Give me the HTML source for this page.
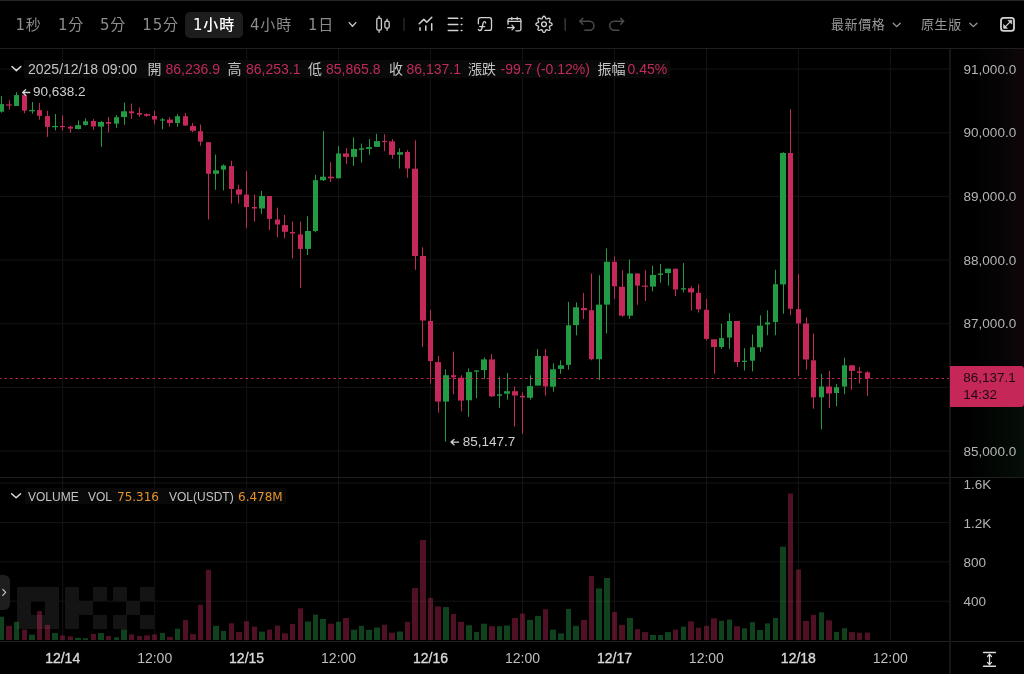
<!DOCTYPE html>
<html lang="zh-Hant">
<head>
<meta charset="utf-8">
<title>BTC-USDT 1小時</title>
<style>
*{margin:0;padding:0;box-sizing:border-box}
html,body{width:1024px;height:674px;overflow:hidden;background:#000}
body{position:relative;font-family:"Liberation Sans","Noto Sans CJK TC",sans-serif;color:#c8c8c8}
.a{position:absolute;white-space:nowrap;line-height:1}
.hl{position:absolute;left:0;width:1024px;height:1px}
.tab{position:absolute;top:17.9px;letter-spacing:.8px;font:15px/1 "DejaVu Sans","Noto Sans CJK TC",sans-serif;color:#8c8c8c;white-space:nowrap}
.tab.sel{color:#fff;font-weight:500}
.hr{position:absolute;top:18.3px;letter-spacing:.6px;font:13px/1 "Liberation Sans","Noto Sans CJK TC",sans-serif;color:#9a9a9a;white-space:nowrap}
.ib{position:absolute;top:62.2px;font:14px/1 "Liberation Sans","Noto Sans CJK TC",sans-serif;white-space:nowrap}
.lb{color:#c4c4c4}
.rv{color:#bf2a58}
.ax{position:absolute;left:963.6px;font:13.5px/1 "Liberation Sans",sans-serif;color:#b4b4b4;white-space:nowrap}
.tl{position:absolute;top:651.2px;width:60px;margin-left:-30px;text-align:center;font:14px/1 "Liberation Sans",sans-serif;color:#bdbdbd}
.tl.d{color:#d8d8d8;-webkit-text-stroke:.35px #d8d8d8}
.vl{position:absolute;top:490.7px;font:12px/1 "Liberation Sans",sans-serif;white-space:nowrap}
</style>
</head>
<body>
<!-- header -->
<div class="hl" style="top:0;background:#252525"></div>
<div class="hl" style="top:48px;background:#1f1f1f"></div>
<div class="a" style="left:185px;top:12px;width:58px;height:26px;border-radius:5px;background:#1d1d1d"></div>
<span class="tab" style="left:15.5px">1秒</span>
<span class="tab" style="left:58px">1分</span>
<span class="tab" style="left:100px">5分</span>
<span class="tab" style="left:142.3px">15分</span>
<span class="tab sel" style="left:193px">1小時</span>
<span class="tab" style="left:250px">4小時</span>
<span class="tab" style="left:308px">1日</span>
<svg class="a" style="left:0;top:0" width="1024" height="48" viewBox="0 0 1024 48" fill="none" stroke-linecap="round" stroke-linejoin="round">
  <!-- dropdown chevron -->
  <path d="M349.2 22.6 L352.5 26.2 L355.8 22.6" stroke="#c8c8c8" stroke-width="1.4"/>
  <!-- candle icon -->
  <g stroke="#cfcfcf" stroke-width="1.3">
    <rect x="376.8" y="18.2" width="4.6" height="12" rx="1.6"/>
    <path d="M379.1 16.2 V18.2 M379.1 30.2 V32.3"/>
    <rect x="384.9" y="21.2" width="4.3" height="7" rx="1.5"/>
    <path d="M387.05 19.2 V21.2 M387.05 28.2 V30.3"/>
  </g>
  <rect x="403.2" y="18" width="1.5" height="13" fill="#262626" stroke="none"/>
  <!-- indicator icon -->
  <g stroke="#d2d2d2" stroke-width="1.5">
    <path d="M419.2 23.8 L423.8 19.4 L426.8 22.3 L431.8 17.3"/>
    <path d="M420 27.7 V30.2 M425.8 25.9 V30.2 M431.7 23.7 V30.2"/>
  </g>
  <!-- list icon -->
  <g stroke="#d2d2d2" stroke-width="1.5">
    <path d="M448.3 18.2 H457.8 M448.3 24.4 H457.8 M448.3 30.5 H457.8"/>
    <path d="M461.2 18.2 H461.9 M461.2 24.4 H461.9 M461.2 30.5 H461.9"/>
  </g>
  <!-- function icon -->
  <g stroke="#d2d2d2" stroke-width="1.3">
    <path d="M478.4 23.8 V19.9 Q478.4 17.7 480.6 17.7 H489.3 Q491.5 17.7 491.5 19.9 V28.2 Q491.5 30.4 489.3 30.4 H484.9"/>
    <path d="M485.7 22.9 Q485.4 21.4 484.3 21.6 Q483.3 21.8 483 23.5 L481.9 28.5 Q481.4 30.6 479.7 30.5 Q478.7 30.4 478.4 29.6"/>
    <path d="M479.7 26.6 H484.7"/>
  </g>
  <!-- calendar import icon -->
  <g stroke="#d2d2d2" stroke-width="1.3">
    <path d="M508 24.2 V20.2 Q508 18.7 509.5 18.7 H519.4 Q520.9 18.7 520.9 20.2 V29.3 Q520.9 30.8 519.4 30.8 H516"/>
    <path d="M508 21.4 H520.9"/>
    <path d="M511.8 17.3 V19.6 M517.2 17.3 V19.6"/>
    <path d="M507.6 27.6 H514.2 M512 25.3 L514.3 27.6 L512 29.9"/>
  </g>
  <!-- gear -->
  <g stroke="#d2d2d2" stroke-width="1.3">
    <path d="M552.15 24.30 L552.09 24.62 L551.91 24.92 L551.62 25.20 L551.26 25.45 L550.87 25.67 L550.46 25.85 L550.09 26.02 L549.77 26.18 L549.54 26.34 L549.40 26.54 L549.36 26.77 L549.41 27.06 L549.52 27.39 L549.67 27.77 L549.82 28.19 L549.95 28.62 L550.03 29.05 L550.03 29.45 L549.94 29.79 L549.76 30.06 L549.49 30.24 L549.15 30.33 L548.75 30.33 L548.32 30.25 L547.89 30.12 L547.47 29.97 L547.09 29.82 L546.76 29.71 L546.47 29.66 L546.24 29.70 L546.04 29.84 L545.88 30.07 L545.72 30.39 L545.55 30.76 L545.37 31.17 L545.15 31.56 L544.90 31.92 L544.62 32.21 L544.32 32.39 L544.00 32.45 L543.68 32.39 L543.38 32.21 L543.10 31.92 L542.85 31.56 L542.63 31.17 L542.45 30.76 L542.28 30.39 L542.12 30.07 L541.96 29.84 L541.76 29.70 L541.53 29.66 L541.24 29.71 L540.91 29.82 L540.53 29.97 L540.11 30.12 L539.68 30.25 L539.25 30.33 L538.85 30.33 L538.51 30.24 L538.24 30.06 L538.06 29.79 L537.97 29.45 L537.97 29.05 L538.05 28.62 L538.18 28.19 L538.33 27.77 L538.48 27.39 L538.59 27.06 L538.64 26.77 L538.60 26.54 L538.46 26.34 L538.23 26.18 L537.91 26.02 L537.54 25.85 L537.13 25.67 L536.74 25.45 L536.38 25.20 L536.09 24.92 L535.91 24.62 L535.85 24.30 L535.91 23.98 L536.09 23.68 L536.38 23.40 L536.74 23.15 L537.13 22.93 L537.54 22.75 L537.91 22.58 L538.23 22.42 L538.46 22.26 L538.60 22.06 L538.64 21.83 L538.59 21.54 L538.48 21.21 L538.33 20.83 L538.18 20.41 L538.05 19.98 L537.97 19.55 L537.97 19.15 L538.06 18.81 L538.24 18.54 L538.51 18.36 L538.85 18.27 L539.25 18.27 L539.68 18.35 L540.11 18.48 L540.53 18.63 L540.91 18.78 L541.24 18.89 L541.53 18.94 L541.76 18.90 L541.96 18.76 L542.12 18.53 L542.28 18.21 L542.45 17.84 L542.63 17.43 L542.85 17.04 L543.10 16.68 L543.38 16.39 L543.68 16.21 L544.00 16.15 L544.32 16.21 L544.62 16.39 L544.90 16.68 L545.15 17.04 L545.37 17.43 L545.55 17.84 L545.72 18.21 L545.88 18.53 L546.04 18.76 L546.24 18.90 L546.47 18.94 L546.76 18.89 L547.09 18.78 L547.47 18.63 L547.89 18.48 L548.32 18.35 L548.75 18.27 L549.15 18.27 L549.49 18.36 L549.76 18.54 L549.94 18.81 L550.03 19.15 L550.03 19.55 L549.95 19.98 L549.82 20.41 L549.67 20.83 L549.52 21.21 L549.41 21.54 L549.36 21.83 L549.40 22.06 L549.54 22.26 L549.77 22.42 L550.09 22.58 L550.46 22.75 L550.87 22.93 L551.26 23.15 L551.62 23.40 L551.91 23.68 L552.09 23.98 Z"/>
    <circle cx="544" cy="24.3" r="2.4"/>
  </g>
  <rect x="564.5" y="18.2" width="1.4" height="12.5" fill="#3a3a3a" stroke="none"/>
  <!-- undo / redo -->
  <g stroke="#4a4a4a" stroke-width="1.5">
    <path d="M579.9 21.3 H589.5 A4.45 4.45 0 0 1 589.5 30.2 H584.8"/>
    <path d="M582.8 18.4 L579.9 21.3 L582.8 24.2"/>
    <path d="M623.6 21.3 H614.2 A4.45 4.45 0 0 0 614.2 30.2 H618.7"/>
    <path d="M620.7 18.4 L623.6 21.3 L620.7 24.2"/>
  </g>
  <!-- right chevrons -->
  <path d="M893.2 23.2 L896.7 26.6 L900.2 23.2" stroke="#9a9a9a" stroke-width="1.3"/>
  <path d="M969.9 23.2 L973.4 26.6 L976.9 23.2" stroke="#9a9a9a" stroke-width="1.3"/>
  <!-- fullscreen -->
  <g stroke="#d2d2d2">
    <rect x="1001" y="17.8" width="13" height="13" rx="2.6" stroke-width="1.8"/>
    <path d="M1004.4 27.6 L1010.9 21.1" stroke-width="1.3"/>
    <path d="M1003.7 25 V28.3 H1007 Z M1011.7 23.7 V20.4 H1008.4 Z" fill="#d2d2d2" stroke-width="0.8"/>
  </g>
</svg>
<span class="hr" style="left:831px">最新價格</span>
<span class="hr" style="left:921px">原生版</span>

<!-- axis background gradients -->
<div class="a" style="left:951px;top:49px;width:73px;height:317px;background:linear-gradient(90deg,rgba(0,0,0,0) 25%,rgba(40,22,32,.28) 90%,rgba(80,20,40,.22))"></div>
<div class="a" style="left:951px;top:407px;width:73px;height:70px;background:linear-gradient(90deg,rgba(0,0,0,0) 25%,rgba(25,70,40,.2))"></div>

<!-- chart -->
<svg class="a" style="left:0;top:0" width="1024" height="674" viewBox="0 0 1024 674">
<g fill="#141414" shape-rendering="crispEdges"><rect x="17.10" y="587.10" width="14.10" height="14.10"/><rect x="17.10" y="600.80" width="14.10" height="14.10"/><rect x="17.10" y="614.50" width="14.10" height="14.10"/><rect x="30.80" y="587.10" width="14.10" height="14.10"/><rect x="30.80" y="614.50" width="14.10" height="14.10"/><rect x="44.50" y="587.10" width="14.10" height="14.10"/><rect x="44.50" y="600.80" width="14.10" height="14.10"/><rect x="44.50" y="614.50" width="14.10" height="14.10"/><rect x="65.10" y="587.10" width="14.10" height="14.10"/><rect x="65.10" y="600.80" width="14.10" height="14.10"/><rect x="65.10" y="614.50" width="14.10" height="14.10"/><rect x="78.80" y="600.80" width="14.10" height="14.10"/><rect x="92.50" y="587.10" width="14.10" height="14.10"/><rect x="92.50" y="614.50" width="14.10" height="14.10"/><rect x="112.60" y="587.10" width="14.10" height="14.10"/><rect x="112.60" y="614.50" width="14.10" height="14.10"/><rect x="126.30" y="600.80" width="14.10" height="14.10"/><rect x="140.00" y="587.10" width="14.10" height="14.10"/><rect x="140.00" y="614.50" width="14.10" height="14.10"/></g>
<rect x="0" y="68.60" width="950" height="1" fill="#141414"/>
<rect x="0" y="132.25" width="950" height="1" fill="#141414"/>
<rect x="0" y="195.90" width="950" height="1" fill="#141414"/>
<rect x="0" y="259.55" width="950" height="1" fill="#141414"/>
<rect x="0" y="323.20" width="950" height="1" fill="#141414"/>
<rect x="0" y="386.85" width="950" height="1" fill="#141414"/>
<rect x="0" y="450.50" width="950" height="1" fill="#141414"/>
<rect x="62.20" y="49" width="1" height="592" fill="#141414"/>
<rect x="154.16" y="49" width="1" height="592" fill="#141414"/>
<rect x="246.12" y="49" width="1" height="592" fill="#141414"/>
<rect x="338.08" y="49" width="1" height="592" fill="#141414"/>
<rect x="430.04" y="49" width="1" height="592" fill="#141414"/>
<rect x="522.00" y="49" width="1" height="592" fill="#141414"/>
<rect x="613.96" y="49" width="1" height="592" fill="#141414"/>
<rect x="705.92" y="49" width="1" height="592" fill="#141414"/>
<rect x="797.88" y="49" width="1" height="592" fill="#141414"/>
<rect x="889.84" y="49" width="1" height="592" fill="#141414"/>
<rect x="0" y="482.50" width="950" height="1" fill="#141414"/>
<rect x="0" y="522.10" width="950" height="1" fill="#141414"/>
<rect x="0" y="561.30" width="950" height="1" fill="#141414"/>
<rect x="0" y="600.70" width="950" height="1" fill="#141414"/>
<rect x="-1" y="616.7" width="5" height="23.3" fill="rgba(37,160,70,0.42)"/>
<rect x="6" y="625.8" width="6" height="14.2" fill="rgba(201,43,91,0.40)"/>
<rect x="14" y="621.8" width="5" height="18.2" fill="rgba(37,160,70,0.42)"/>
<rect x="22" y="629.6" width="5" height="10.4" fill="rgba(201,43,91,0.40)"/>
<rect x="29" y="634.7" width="6" height="5.3" fill="rgba(37,160,70,0.42)"/>
<rect x="37" y="611.1" width="5" height="28.9" fill="rgba(201,43,91,0.40)"/>
<rect x="45" y="624.9" width="5" height="15.1" fill="rgba(201,43,91,0.40)"/>
<rect x="52" y="632.9" width="6" height="7.1" fill="rgba(37,160,70,0.42)"/>
<rect x="60" y="635.4" width="5" height="4.6" fill="rgba(201,43,91,0.40)"/>
<rect x="68" y="636.3" width="5" height="3.7" fill="rgba(201,43,91,0.40)"/>
<rect x="75" y="637.9" width="6" height="2.1" fill="rgba(37,160,70,0.42)"/>
<rect x="83" y="638.2" width="5" height="1.8" fill="rgba(37,160,70,0.42)"/>
<rect x="91" y="633.8" width="5" height="6.2" fill="rgba(201,43,91,0.40)"/>
<rect x="98" y="633.1" width="6" height="6.9" fill="rgba(37,160,70,0.42)"/>
<rect x="106" y="636.0" width="5" height="4.0" fill="rgba(201,43,91,0.40)"/>
<rect x="114" y="637.3" width="5" height="2.7" fill="rgba(37,160,70,0.42)"/>
<rect x="121" y="629.4" width="6" height="10.6" fill="rgba(37,160,70,0.42)"/>
<rect x="129" y="634.4" width="5" height="5.6" fill="rgba(201,43,91,0.40)"/>
<rect x="137" y="636.0" width="5" height="4.0" fill="rgba(201,43,91,0.40)"/>
<rect x="144" y="635.4" width="6" height="4.6" fill="rgba(201,43,91,0.40)"/>
<rect x="152" y="634.4" width="5" height="5.6" fill="rgba(201,43,91,0.40)"/>
<rect x="160" y="632.9" width="5" height="7.1" fill="rgba(37,160,70,0.42)"/>
<rect x="167" y="636.9" width="6" height="3.1" fill="rgba(201,43,91,0.40)"/>
<rect x="175" y="628.7" width="5" height="11.3" fill="rgba(37,160,70,0.42)"/>
<rect x="183" y="619.9" width="5" height="20.1" fill="rgba(201,43,91,0.40)"/>
<rect x="190" y="634.1" width="6" height="5.9" fill="rgba(201,43,91,0.40)"/>
<rect x="198" y="604.8" width="5" height="35.2" fill="rgba(201,43,91,0.40)"/>
<rect x="206" y="569.8" width="5" height="70.2" fill="rgba(201,43,91,0.40)"/>
<rect x="213" y="625.8" width="6" height="14.2" fill="rgba(37,160,70,0.42)"/>
<rect x="221" y="630.9" width="5" height="9.1" fill="rgba(37,160,70,0.42)"/>
<rect x="229" y="623.3" width="5" height="16.7" fill="rgba(201,43,91,0.40)"/>
<rect x="236" y="632.1" width="6" height="7.9" fill="rgba(201,43,91,0.40)"/>
<rect x="244" y="621.2" width="5" height="18.8" fill="rgba(201,43,91,0.40)"/>
<rect x="252" y="626.6" width="5" height="13.4" fill="rgba(201,43,91,0.40)"/>
<rect x="259" y="631.6" width="6" height="8.4" fill="rgba(37,160,70,0.42)"/>
<rect x="267" y="629.6" width="5" height="10.4" fill="rgba(201,43,91,0.40)"/>
<rect x="275" y="625.6" width="5" height="14.4" fill="rgba(201,43,91,0.40)"/>
<rect x="282" y="633.4" width="6" height="6.6" fill="rgba(201,43,91,0.40)"/>
<rect x="290" y="624.0" width="5" height="16.0" fill="rgba(201,43,91,0.40)"/>
<rect x="298" y="608.3" width="5" height="31.7" fill="rgba(201,43,91,0.40)"/>
<rect x="305" y="621.5" width="6" height="18.5" fill="rgba(37,160,70,0.42)"/>
<rect x="313" y="614.6" width="5" height="25.4" fill="rgba(37,160,70,0.42)"/>
<rect x="320" y="618.9" width="6" height="21.1" fill="rgba(37,160,70,0.42)"/>
<rect x="328" y="623.7" width="6" height="16.3" fill="rgba(201,43,91,0.40)"/>
<rect x="336" y="621.8" width="5" height="18.2" fill="rgba(37,160,70,0.42)"/>
<rect x="343" y="618.0" width="6" height="22.0" fill="rgba(201,43,91,0.40)"/>
<rect x="351" y="629.7" width="6" height="10.3" fill="rgba(37,160,70,0.42)"/>
<rect x="359" y="625.8" width="5" height="14.2" fill="rgba(37,160,70,0.42)"/>
<rect x="366" y="629.8" width="6" height="10.2" fill="rgba(37,160,70,0.42)"/>
<rect x="374" y="627.6" width="6" height="12.4" fill="rgba(37,160,70,0.42)"/>
<rect x="382" y="624.7" width="5" height="15.3" fill="rgba(201,43,91,0.40)"/>
<rect x="389" y="632.7" width="6" height="7.3" fill="rgba(201,43,91,0.40)"/>
<rect x="397" y="631.5" width="6" height="8.5" fill="rgba(37,160,70,0.42)"/>
<rect x="405" y="621.8" width="5" height="18.2" fill="rgba(201,43,91,0.40)"/>
<rect x="412" y="588.0" width="6" height="52.0" fill="rgba(201,43,91,0.40)"/>
<rect x="420" y="539.9" width="6" height="100.1" fill="rgba(201,43,91,0.40)"/>
<rect x="428" y="597.9" width="5" height="42.1" fill="rgba(201,43,91,0.40)"/>
<rect x="435" y="606.5" width="6" height="33.5" fill="rgba(201,43,91,0.40)"/>
<rect x="443" y="607.1" width="6" height="32.9" fill="rgba(37,160,70,0.42)"/>
<rect x="451" y="614.0" width="5" height="26.0" fill="rgba(201,43,91,0.40)"/>
<rect x="458" y="621.8" width="6" height="18.2" fill="rgba(201,43,91,0.40)"/>
<rect x="466" y="625.3" width="6" height="14.7" fill="rgba(37,160,70,0.42)"/>
<rect x="474" y="631.9" width="5" height="8.1" fill="rgba(37,160,70,0.42)"/>
<rect x="481" y="623.7" width="6" height="16.3" fill="rgba(37,160,70,0.42)"/>
<rect x="489" y="626.2" width="6" height="13.8" fill="rgba(201,43,91,0.40)"/>
<rect x="497" y="626.2" width="5" height="13.8" fill="rgba(37,160,70,0.42)"/>
<rect x="504" y="625.6" width="6" height="14.4" fill="rgba(37,160,70,0.42)"/>
<rect x="512" y="618.0" width="6" height="22.0" fill="rgba(201,43,91,0.40)"/>
<rect x="520" y="613.6" width="5" height="26.4" fill="rgba(201,43,91,0.40)"/>
<rect x="527" y="619.9" width="6" height="20.1" fill="rgba(37,160,70,0.42)"/>
<rect x="535" y="615.9" width="6" height="24.1" fill="rgba(37,160,70,0.42)"/>
<rect x="543" y="609.2" width="5" height="30.8" fill="rgba(201,43,91,0.40)"/>
<rect x="550" y="629.6" width="6" height="10.4" fill="rgba(37,160,70,0.42)"/>
<rect x="558" y="633.4" width="6" height="6.6" fill="rgba(37,160,70,0.42)"/>
<rect x="566" y="608.9" width="5" height="31.1" fill="rgba(37,160,70,0.42)"/>
<rect x="573" y="625.8" width="6" height="14.2" fill="rgba(37,160,70,0.42)"/>
<rect x="581" y="619.9" width="6" height="20.1" fill="rgba(201,43,91,0.40)"/>
<rect x="589" y="576.1" width="5" height="63.9" fill="rgba(201,43,91,0.40)"/>
<rect x="596" y="588.4" width="6" height="51.6" fill="rgba(37,160,70,0.42)"/>
<rect x="604" y="578.0" width="6" height="62.0" fill="rgba(37,160,70,0.42)"/>
<rect x="612" y="612.0" width="5" height="28.0" fill="rgba(201,43,91,0.40)"/>
<rect x="619" y="624.9" width="6" height="15.1" fill="rgba(201,43,91,0.40)"/>
<rect x="627" y="618.0" width="6" height="22.0" fill="rgba(37,160,70,0.42)"/>
<rect x="635" y="629.1" width="5" height="10.9" fill="rgba(201,43,91,0.40)"/>
<rect x="642" y="632.1" width="6" height="7.9" fill="rgba(201,43,91,0.40)"/>
<rect x="650" y="635.0" width="6" height="5.0" fill="rgba(37,160,70,0.42)"/>
<rect x="658" y="635.0" width="5" height="5.0" fill="rgba(37,160,70,0.42)"/>
<rect x="665" y="632.1" width="6" height="7.9" fill="rgba(37,160,70,0.42)"/>
<rect x="673" y="629.6" width="5" height="10.4" fill="rgba(201,43,91,0.40)"/>
<rect x="681" y="626.6" width="5" height="13.4" fill="rgba(37,160,70,0.42)"/>
<rect x="688" y="621.4" width="6" height="18.6" fill="rgba(201,43,91,0.40)"/>
<rect x="696" y="627.7" width="5" height="12.3" fill="rgba(201,43,91,0.40)"/>
<rect x="704" y="625.8" width="5" height="14.2" fill="rgba(201,43,91,0.40)"/>
<rect x="711" y="618.3" width="6" height="21.7" fill="rgba(201,43,91,0.40)"/>
<rect x="719" y="620.8" width="5" height="19.2" fill="rgba(37,160,70,0.42)"/>
<rect x="727" y="619.6" width="5" height="20.4" fill="rgba(37,160,70,0.42)"/>
<rect x="734" y="626.3" width="6" height="13.7" fill="rgba(201,43,91,0.40)"/>
<rect x="742" y="628.3" width="5" height="11.7" fill="rgba(37,160,70,0.42)"/>
<rect x="750" y="622.2" width="5" height="17.8" fill="rgba(37,160,70,0.42)"/>
<rect x="757" y="630.0" width="6" height="10.0" fill="rgba(37,160,70,0.42)"/>
<rect x="765" y="623.4" width="5" height="16.6" fill="rgba(37,160,70,0.42)"/>
<rect x="773" y="618.0" width="5" height="22.0" fill="rgba(37,160,70,0.42)"/>
<rect x="780" y="546.7" width="6" height="93.3" fill="rgba(37,160,70,0.42)"/>
<rect x="788" y="493.5" width="5" height="146.5" fill="rgba(201,43,91,0.40)"/>
<rect x="796" y="569.5" width="5" height="70.5" fill="rgba(201,43,91,0.40)"/>
<rect x="803" y="621.0" width="6" height="19.0" fill="rgba(201,43,91,0.40)"/>
<rect x="811" y="614.9" width="5" height="25.1" fill="rgba(201,43,91,0.40)"/>
<rect x="819" y="612.3" width="5" height="27.7" fill="rgba(37,160,70,0.42)"/>
<rect x="826" y="620.3" width="6" height="19.7" fill="rgba(201,43,91,0.40)"/>
<rect x="834" y="631.9" width="5" height="8.1" fill="rgba(37,160,70,0.42)"/>
<rect x="842" y="628.2" width="5" height="11.8" fill="rgba(37,160,70,0.42)"/>
<rect x="849" y="632.1" width="6" height="7.9" fill="rgba(201,43,91,0.40)"/>
<rect x="857" y="632.8" width="5" height="7.2" fill="rgba(201,43,91,0.40)"/>
<rect x="865" y="632.6" width="5" height="7.4" fill="rgba(201,43,91,0.40)"/>
<rect x="1" y="96.1" width="1" height="16.6" fill="#239b45"/>
<rect x="-1" y="104.1" width="5" height="7.6" fill="#239b45"/>
<rect x="9" y="100.2" width="1" height="9.4" fill="#c42959"/>
<rect x="6" y="104.4" width="6" height="1.2" fill="#c42959"/>
<rect x="16" y="92.3" width="1" height="13.7" fill="#239b45"/>
<rect x="14" y="95.1" width="5" height="10.9" fill="#239b45"/>
<rect x="24" y="95.1" width="1" height="18.1" fill="#c42959"/>
<rect x="22" y="95.1" width="5" height="15.5" fill="#c42959"/>
<rect x="32" y="102.0" width="1" height="11.7" fill="#239b45"/>
<rect x="29" y="110.1" width="6" height="1.2" fill="#239b45"/>
<rect x="39" y="103.0" width="1" height="16.7" fill="#c42959"/>
<rect x="37" y="110.1" width="5" height="5.7" fill="#c42959"/>
<rect x="47" y="110.8" width="1" height="26.1" fill="#c42959"/>
<rect x="45" y="116.1" width="5" height="10.8" fill="#c42959"/>
<rect x="55" y="114.0" width="1" height="16.4" fill="#239b45"/>
<rect x="52" y="126.0" width="6" height="1.2" fill="#239b45"/>
<rect x="62" y="115.3" width="1" height="15.4" fill="#c42959"/>
<rect x="60" y="126.0" width="5" height="1.2" fill="#c42959"/>
<rect x="70" y="125.7" width="1" height="7.3" fill="#c42959"/>
<rect x="68" y="126.7" width="5" height="1.9" fill="#c42959"/>
<rect x="78" y="120.5" width="1" height="9.0" fill="#239b45"/>
<rect x="75" y="125.2" width="6" height="3.8" fill="#239b45"/>
<rect x="85" y="118.2" width="1" height="7.5" fill="#239b45"/>
<rect x="83" y="121.3" width="5" height="3.6" fill="#239b45"/>
<rect x="93" y="119.1" width="1" height="10.6" fill="#c42959"/>
<rect x="91" y="121.0" width="5" height="5.4" fill="#c42959"/>
<rect x="101" y="121.0" width="1" height="25.9" fill="#239b45"/>
<rect x="98" y="122.0" width="6" height="4.6" fill="#239b45"/>
<rect x="108" y="117.0" width="1" height="15.4" fill="#c42959"/>
<rect x="106" y="122.0" width="5" height="1.7" fill="#c42959"/>
<rect x="116" y="115.1" width="1" height="12.8" fill="#239b45"/>
<rect x="114" y="117.2" width="5" height="6.5" fill="#239b45"/>
<rect x="124" y="102.5" width="1" height="22.3" fill="#239b45"/>
<rect x="121" y="111.3" width="6" height="5.7" fill="#239b45"/>
<rect x="131" y="103.5" width="1" height="15.4" fill="#c42959"/>
<rect x="129" y="111.3" width="5" height="2.1" fill="#c42959"/>
<rect x="139" y="107.4" width="1" height="9.4" fill="#c42959"/>
<rect x="137" y="113.0" width="5" height="1.7" fill="#c42959"/>
<rect x="146" y="113.4" width="1" height="3.4" fill="#c42959"/>
<rect x="144" y="114.1" width="6" height="1.7" fill="#c42959"/>
<rect x="154" y="110.8" width="1" height="13.5" fill="#c42959"/>
<rect x="152" y="116.0" width="5" height="3.6" fill="#c42959"/>
<rect x="162" y="118.0" width="1" height="11.3" fill="#239b45"/>
<rect x="160" y="119.4" width="5" height="1.2" fill="#239b45"/>
<rect x="169" y="117.2" width="1" height="9.4" fill="#c42959"/>
<rect x="167" y="119.6" width="6" height="3.4" fill="#c42959"/>
<rect x="177" y="114.1" width="1" height="12.8" fill="#239b45"/>
<rect x="175" y="116.2" width="5" height="6.8" fill="#239b45"/>
<rect x="185" y="113.0" width="1" height="12.8" fill="#c42959"/>
<rect x="183" y="116.2" width="5" height="9.3" fill="#c42959"/>
<rect x="192" y="122.9" width="1" height="9.3" fill="#c42959"/>
<rect x="190" y="126.0" width="6" height="4.8" fill="#c42959"/>
<rect x="200" y="124.5" width="1" height="21.2" fill="#c42959"/>
<rect x="198" y="131.2" width="5" height="10.4" fill="#c42959"/>
<rect x="208" y="142.2" width="1" height="77.3" fill="#c42959"/>
<rect x="206" y="142.2" width="5" height="31.6" fill="#c42959"/>
<rect x="215" y="154.5" width="1" height="35.3" fill="#239b45"/>
<rect x="213" y="170.3" width="6" height="3.5" fill="#239b45"/>
<rect x="223" y="164.4" width="1" height="26.0" fill="#239b45"/>
<rect x="221" y="165.5" width="5" height="4.1" fill="#239b45"/>
<rect x="231" y="160.7" width="1" height="42.8" fill="#c42959"/>
<rect x="229" y="166.1" width="5" height="22.9" fill="#c42959"/>
<rect x="238" y="184.8" width="1" height="18.7" fill="#c42959"/>
<rect x="236" y="189.4" width="6" height="5.2" fill="#c42959"/>
<rect x="246" y="171.1" width="1" height="56.8" fill="#c42959"/>
<rect x="244" y="194.6" width="5" height="12.5" fill="#c42959"/>
<rect x="254" y="194.6" width="1" height="27.0" fill="#c42959"/>
<rect x="252" y="207.0" width="5" height="1.5" fill="#c42959"/>
<rect x="261" y="191.0" width="1" height="22.9" fill="#239b45"/>
<rect x="259" y="196.0" width="6" height="12.5" fill="#239b45"/>
<rect x="269" y="196.0" width="1" height="33.9" fill="#c42959"/>
<rect x="267" y="196.0" width="5" height="22.9" fill="#c42959"/>
<rect x="277" y="207.7" width="1" height="29.7" fill="#c42959"/>
<rect x="275" y="219.5" width="5" height="5.0" fill="#c42959"/>
<rect x="284" y="214.9" width="1" height="23.3" fill="#c42959"/>
<rect x="282" y="225.1" width="6" height="6.7" fill="#c42959"/>
<rect x="292" y="221.6" width="1" height="36.9" fill="#c42959"/>
<rect x="290" y="232.0" width="5" height="1.5" fill="#c42959"/>
<rect x="300" y="221.6" width="1" height="66.3" fill="#c42959"/>
<rect x="298" y="234.4" width="5" height="14.5" fill="#c42959"/>
<rect x="307" y="216.3" width="1" height="38.7" fill="#239b45"/>
<rect x="305" y="231.0" width="6" height="17.9" fill="#239b45"/>
<rect x="315" y="174.8" width="1" height="57.5" fill="#239b45"/>
<rect x="313" y="180.2" width="5" height="50.8" fill="#239b45"/>
<rect x="323" y="131.2" width="1" height="49.8" fill="#239b45"/>
<rect x="320" y="176.7" width="6" height="3.5" fill="#239b45"/>
<rect x="330" y="162.2" width="1" height="19.8" fill="#c42959"/>
<rect x="328" y="176.7" width="6" height="1.6" fill="#c42959"/>
<rect x="338" y="146.2" width="1" height="32.1" fill="#239b45"/>
<rect x="336" y="153.4" width="5" height="24.9" fill="#239b45"/>
<rect x="346" y="148.0" width="1" height="16.1" fill="#c42959"/>
<rect x="343" y="153.4" width="6" height="3.5" fill="#c42959"/>
<rect x="353" y="137.4" width="1" height="28.6" fill="#239b45"/>
<rect x="351" y="148.9" width="6" height="8.0" fill="#239b45"/>
<rect x="361" y="143.6" width="1" height="19.1" fill="#239b45"/>
<rect x="359" y="148.3" width="5" height="1.5" fill="#239b45"/>
<rect x="369" y="139.1" width="1" height="15.8" fill="#239b45"/>
<rect x="366" y="147.1" width="6" height="1.8" fill="#239b45"/>
<rect x="376" y="133.8" width="1" height="13.1" fill="#239b45"/>
<rect x="374" y="141.1" width="6" height="5.8" fill="#239b45"/>
<rect x="384" y="134.2" width="1" height="16.9" fill="#c42959"/>
<rect x="382" y="140.9" width="5" height="1.2" fill="#c42959"/>
<rect x="392" y="139.1" width="1" height="19.6" fill="#c42959"/>
<rect x="389" y="141.4" width="6" height="13.5" fill="#c42959"/>
<rect x="399" y="148.3" width="1" height="20.2" fill="#239b45"/>
<rect x="397" y="152.2" width="6" height="2.5" fill="#239b45"/>
<rect x="407" y="150.1" width="1" height="27.7" fill="#c42959"/>
<rect x="405" y="151.9" width="5" height="16.6" fill="#c42959"/>
<rect x="415" y="140.3" width="1" height="129.5" fill="#c42959"/>
<rect x="412" y="168.7" width="6" height="87.3" fill="#c42959"/>
<rect x="422" y="247.3" width="1" height="99.7" fill="#c42959"/>
<rect x="420" y="256.0" width="6" height="64.5" fill="#c42959"/>
<rect x="430" y="310.1" width="1" height="73.4" fill="#c42959"/>
<rect x="428" y="321.0" width="5" height="40.1" fill="#c42959"/>
<rect x="438" y="355.9" width="1" height="56.7" fill="#c42959"/>
<rect x="435" y="362.1" width="6" height="39.5" fill="#c42959"/>
<rect x="445" y="369.4" width="1" height="72.2" fill="#239b45"/>
<rect x="443" y="375.2" width="6" height="26.4" fill="#239b45"/>
<rect x="453" y="351.7" width="1" height="42.6" fill="#c42959"/>
<rect x="451" y="375.2" width="5" height="2.1" fill="#c42959"/>
<rect x="461" y="375.2" width="1" height="36.2" fill="#c42959"/>
<rect x="458" y="377.7" width="6" height="22.9" fill="#c42959"/>
<rect x="468" y="368.4" width="1" height="48.4" fill="#239b45"/>
<rect x="466" y="372.1" width="6" height="28.2" fill="#239b45"/>
<rect x="476" y="370.4" width="1" height="27.8" fill="#239b45"/>
<rect x="474" y="370.4" width="5" height="1.3" fill="#239b45"/>
<rect x="484" y="357.4" width="1" height="21.6" fill="#239b45"/>
<rect x="481" y="359.4" width="6" height="10.7" fill="#239b45"/>
<rect x="491" y="354.0" width="1" height="43.1" fill="#c42959"/>
<rect x="489" y="359.4" width="6" height="36.9" fill="#c42959"/>
<rect x="499" y="376.7" width="1" height="31.1" fill="#239b45"/>
<rect x="497" y="394.3" width="5" height="1.5" fill="#239b45"/>
<rect x="507" y="373.0" width="1" height="26.6" fill="#239b45"/>
<rect x="504" y="391.2" width="6" height="2.5" fill="#239b45"/>
<rect x="514" y="386.4" width="1" height="40.2" fill="#c42959"/>
<rect x="512" y="391.2" width="6" height="4.3" fill="#c42959"/>
<rect x="522" y="392.3" width="1" height="41.5" fill="#c42959"/>
<rect x="520" y="395.8" width="5" height="1.6" fill="#c42959"/>
<rect x="530" y="375.3" width="1" height="24.4" fill="#239b45"/>
<rect x="527" y="386.1" width="6" height="11.7" fill="#239b45"/>
<rect x="537" y="349.0" width="1" height="36.6" fill="#239b45"/>
<rect x="535" y="356.0" width="6" height="29.6" fill="#239b45"/>
<rect x="545" y="349.0" width="1" height="46.6" fill="#c42959"/>
<rect x="543" y="356.0" width="5" height="30.4" fill="#c42959"/>
<rect x="553" y="363.4" width="1" height="28.2" fill="#239b45"/>
<rect x="550" y="369.3" width="6" height="17.4" fill="#239b45"/>
<rect x="560" y="360.4" width="1" height="13.4" fill="#239b45"/>
<rect x="558" y="365.3" width="6" height="3.6" fill="#239b45"/>
<rect x="568" y="301.9" width="1" height="67.8" fill="#239b45"/>
<rect x="566" y="325.3" width="5" height="39.6" fill="#239b45"/>
<rect x="576" y="302.4" width="1" height="32.9" fill="#239b45"/>
<rect x="573" y="307.3" width="6" height="17.8" fill="#239b45"/>
<rect x="583" y="293.0" width="1" height="26.0" fill="#c42959"/>
<rect x="581" y="308.0" width="6" height="2.2" fill="#c42959"/>
<rect x="591" y="273.4" width="1" height="86.9" fill="#c42959"/>
<rect x="589" y="310.2" width="5" height="49.0" fill="#c42959"/>
<rect x="599" y="275.2" width="1" height="104.7" fill="#239b45"/>
<rect x="596" y="304.6" width="6" height="54.6" fill="#239b45"/>
<rect x="606" y="248.5" width="1" height="85.0" fill="#239b45"/>
<rect x="604" y="261.8" width="6" height="42.8" fill="#239b45"/>
<rect x="614" y="256.7" width="1" height="42.3" fill="#c42959"/>
<rect x="612" y="261.8" width="5" height="24.5" fill="#c42959"/>
<rect x="622" y="270.1" width="1" height="46.7" fill="#c42959"/>
<rect x="619" y="286.8" width="6" height="28.9" fill="#c42959"/>
<rect x="629" y="259.6" width="1" height="59.4" fill="#239b45"/>
<rect x="627" y="273.4" width="6" height="42.3" fill="#239b45"/>
<rect x="637" y="273.4" width="1" height="31.4" fill="#c42959"/>
<rect x="635" y="273.5" width="5" height="12.1" fill="#c42959"/>
<rect x="645" y="270.2" width="1" height="30.8" fill="#c42959"/>
<rect x="642" y="285.6" width="6" height="1.2" fill="#c42959"/>
<rect x="652" y="265.8" width="1" height="25.6" fill="#239b45"/>
<rect x="650" y="275.0" width="6" height="11.6" fill="#239b45"/>
<rect x="660" y="263.9" width="1" height="18.9" fill="#239b45"/>
<rect x="658" y="273.5" width="5" height="1.5" fill="#239b45"/>
<rect x="668" y="268.7" width="1" height="16.9" fill="#239b45"/>
<rect x="665" y="268.7" width="6" height="4.4" fill="#239b45"/>
<rect x="675" y="268.7" width="1" height="27.5" fill="#c42959"/>
<rect x="673" y="268.7" width="5" height="20.8" fill="#c42959"/>
<rect x="683" y="263.1" width="1" height="29.3" fill="#239b45"/>
<rect x="681" y="288.2" width="5" height="1.3" fill="#239b45"/>
<rect x="691" y="286.2" width="1" height="24.5" fill="#c42959"/>
<rect x="688" y="288.2" width="6" height="4.2" fill="#c42959"/>
<rect x="698" y="284.3" width="1" height="28.3" fill="#c42959"/>
<rect x="696" y="292.8" width="5" height="16.5" fill="#c42959"/>
<rect x="706" y="299.0" width="1" height="41.6" fill="#c42959"/>
<rect x="704" y="309.8" width="5" height="29.1" fill="#c42959"/>
<rect x="714" y="339.3" width="1" height="34.4" fill="#c42959"/>
<rect x="711" y="339.3" width="6" height="7.7" fill="#c42959"/>
<rect x="721" y="323.8" width="1" height="25.0" fill="#239b45"/>
<rect x="719" y="338.1" width="5" height="8.9" fill="#239b45"/>
<rect x="729" y="313.1" width="1" height="35.7" fill="#239b45"/>
<rect x="727" y="321.0" width="5" height="16.5" fill="#239b45"/>
<rect x="737" y="321.0" width="1" height="46.0" fill="#c42959"/>
<rect x="734" y="321.0" width="6" height="41.0" fill="#c42959"/>
<rect x="744" y="348.2" width="1" height="22.3" fill="#239b45"/>
<rect x="742" y="360.7" width="5" height="1.3" fill="#239b45"/>
<rect x="752" y="334.5" width="1" height="36.9" fill="#239b45"/>
<rect x="750" y="347.3" width="5" height="13.4" fill="#239b45"/>
<rect x="760" y="315.3" width="1" height="36.5" fill="#239b45"/>
<rect x="757" y="325.6" width="6" height="21.7" fill="#239b45"/>
<rect x="767" y="310.3" width="1" height="24.9" fill="#239b45"/>
<rect x="765" y="322.4" width="5" height="2.1" fill="#239b45"/>
<rect x="775" y="269.8" width="1" height="65.4" fill="#239b45"/>
<rect x="773" y="284.2" width="5" height="37.8" fill="#239b45"/>
<rect x="783" y="152.2" width="1" height="161.6" fill="#239b45"/>
<rect x="780" y="153.0" width="6" height="131.4" fill="#239b45"/>
<rect x="790" y="109.1" width="1" height="206.1" fill="#c42959"/>
<rect x="788" y="153.0" width="5" height="155.7" fill="#c42959"/>
<rect x="798" y="274.2" width="1" height="101.7" fill="#c42959"/>
<rect x="796" y="309.1" width="5" height="14.4" fill="#c42959"/>
<rect x="806" y="317.4" width="1" height="52.2" fill="#c42959"/>
<rect x="803" y="323.5" width="6" height="36.0" fill="#c42959"/>
<rect x="813" y="333.5" width="1" height="75.2" fill="#c42959"/>
<rect x="811" y="360.3" width="5" height="37.0" fill="#c42959"/>
<rect x="821" y="373.9" width="1" height="55.5" fill="#239b45"/>
<rect x="819" y="386.5" width="5" height="10.8" fill="#239b45"/>
<rect x="829" y="370.9" width="1" height="37.3" fill="#c42959"/>
<rect x="826" y="386.5" width="6" height="7.0" fill="#c42959"/>
<rect x="836" y="384.0" width="1" height="22.2" fill="#239b45"/>
<rect x="834" y="387.2" width="5" height="5.8" fill="#239b45"/>
<rect x="844" y="357.7" width="1" height="36.4" fill="#239b45"/>
<rect x="842" y="365.3" width="5" height="21.2" fill="#239b45"/>
<rect x="851" y="365.3" width="1" height="24.5" fill="#c42959"/>
<rect x="849" y="365.3" width="6" height="5.6" fill="#c42959"/>
<rect x="859" y="367.1" width="1" height="16.4" fill="#c42959"/>
<rect x="857" y="371.4" width="5" height="1.5" fill="#c42959"/>
<rect x="867" y="371.3" width="1" height="24.6" fill="#c42959"/>
<rect x="865" y="372.3" width="5" height="6.3" fill="#c42959"/>
<line x1="-1" y1="378.5" x2="950" y2="378.5" stroke="#c42959" stroke-width="1" stroke-dasharray="2.3 3.18" stroke-dashoffset="-0.15"/>
</svg>

<!-- pane separators & axis line -->
<div class="hl" style="top:477px;background:#1f1f1f"></div>
<div class="hl" style="top:641px;background:#1f1f1f"></div>
<div class="a" style="left:949px;top:49px;width:2px;height:625px;background:#161616"></div>

<!-- info bar -->
<div class="a" style="left:24.3px;top:60.2px;width:646px;height:17.4px;background:rgba(13,13,13,.72)"></div>
<svg class="a" style="left:0;top:0" width="30" height="100" fill="none"><path d="M12 66.5 L16.4 70.6 L20.8 66.5" stroke="#dcdcdc" stroke-width="1.5" stroke-linecap="round" stroke-linejoin="round"/></svg>
<span class="ib lb" style="left:28px">2025/12/18 09:00</span>
<span class="ib lb" style="left:147.5px">開</span>
<span class="ib rv" style="left:165.5px">86,236.9</span>
<span class="ib lb" style="left:227.5px">高</span>
<span class="ib rv" style="left:246px">86,253.1</span>
<span class="ib lb" style="left:308px">低</span>
<span class="ib rv" style="left:326px">85,865.8</span>
<span class="ib lb" style="left:389px">收</span>
<span class="ib rv" style="left:406.5px">86,137.1</span>
<span class="ib lb" style="left:468px">漲跌</span>
<span class="ib rv" style="left:500.5px">-99.7 (-0.12%)</span>
<span class="ib lb" style="left:597.5px">振幅</span>
<span class="ib rv" style="left:627.5px">0.45%</span>

<!-- high / low markers -->
<svg class="a" style="left:0;top:0" width="520" height="460" fill="none" stroke="#d4d4d4" stroke-width="1.3" stroke-linecap="round" stroke-linejoin="round">
  <path d="M22.6 92.5 H29.8 M25.6 89.8 L22.6 92.5 L25.6 95.2"/>
  <path d="M451 442.1 H458.6 M454 439.4 L451 442.1 L454 444.8"/>
</svg>
<span class="a" style="left:33px;top:85px;font:13.5px/1 'Liberation Sans',sans-serif;color:#d0d0d0">90,638.2</span>
<span class="a" style="left:462.7px;top:434.5px;font:13.5px/1 'Liberation Sans',sans-serif;color:#d0d0d0">85,147.7</span>

<!-- price axis labels -->
<span class="ax" style="top:62.8px">91,000.0</span>
<span class="ax" style="top:126.45px">90,000.0</span>
<span class="ax" style="top:190.1px">89,000.0</span>
<span class="ax" style="top:253.75px">88,000.0</span>
<span class="ax" style="top:317.4px">87,000.0</span>
<span class="ax" style="top:444.7px">85,000.0</span>
<!-- last price label -->
<div class="a" style="left:950px;top:366px;width:74px;height:40.6px;background:#c42758;border-radius:0 3px 3px 0"></div>
<span class="ax" style="top:371.2px;color:#1c0a10;left:963.3px">86,137.1</span>
<span class="ax" style="top:387.7px;color:#1c0a10;left:963.3px">14:32</span>

<!-- volume legend -->
<div class="a" style="left:25px;top:488.2px;width:261px;height:16px;background:rgba(13,13,13,.72)"></div>
<svg class="a" style="left:0;top:480px" width="30" height="30" fill="none"><path d="M11.6 13.8 L16.1 17.8 L20.6 13.8" stroke="#dcdcdc" stroke-width="1.5" stroke-linecap="round" stroke-linejoin="round"/></svg>
<span class="vl lb" style="left:28px">VOLUME</span>
<span class="vl lb" style="left:88px">VOL</span>
<span class="vl" style="left:117px;color:#e2922f;font-family:'DejaVu Sans'">75.316</span>
<span class="vl lb" style="left:169px">VOL(USDT)</span>
<span class="vl" style="left:238px;color:#e2922f;font-family:'DejaVu Sans'">6.478M</span>

<!-- volume axis labels -->
<span class="ax" style="top:477.5px">1.6K</span>
<span class="ax" style="top:517.2px">1.2K</span>
<span class="ax" style="top:555.5px">800</span>
<span class="ax" style="top:594.9px">400</span>

<!-- left collapse tab -->
<div class="a" style="left:-6px;top:575.3px;width:16px;height:34.6px;border-radius:6px;background:#1e1e1e"></div>
<svg class="a" style="left:0;top:585px" width="10" height="16" fill="none"><path d="M2.8 4.4 L5.6 7.4 L2.8 10.4" stroke="#bdbdbd" stroke-width="1.3" stroke-linecap="round" stroke-linejoin="round"/></svg>

<!-- time axis -->
<span class="tl d" style="left:62.7px">12/14</span>
<span class="tl" style="left:154.7px">12:00</span>
<span class="tl d" style="left:246.6px">12/15</span>
<span class="tl" style="left:338.6px">12:00</span>
<span class="tl d" style="left:430.5px">12/16</span>
<span class="tl" style="left:522.5px">12:00</span>
<span class="tl d" style="left:614.5px">12/17</span>
<span class="tl" style="left:706.4px">12:00</span>
<span class="tl d" style="left:798.4px">12/18</span>
<span class="tl" style="left:890.3px">12:00</span>
<svg class="a" style="left:970px;top:640px" width="40" height="34" fill="none" stroke="#dcdcdc" stroke-linecap="round" stroke-linejoin="round">
  <path d="M13.6 12.6 H25.4 M13.6 26.3 H25.4" stroke-width="1.5"/>
  <path d="M19.5 14.4 V24.5" stroke-width="1.3"/>
  <path d="M17.5 16.5 L19.5 14.4 L21.5 16.5 M17.5 22.4 L19.5 24.5 L21.5 22.4" stroke-width="1.3"/>
</svg>
</body>
</html>
